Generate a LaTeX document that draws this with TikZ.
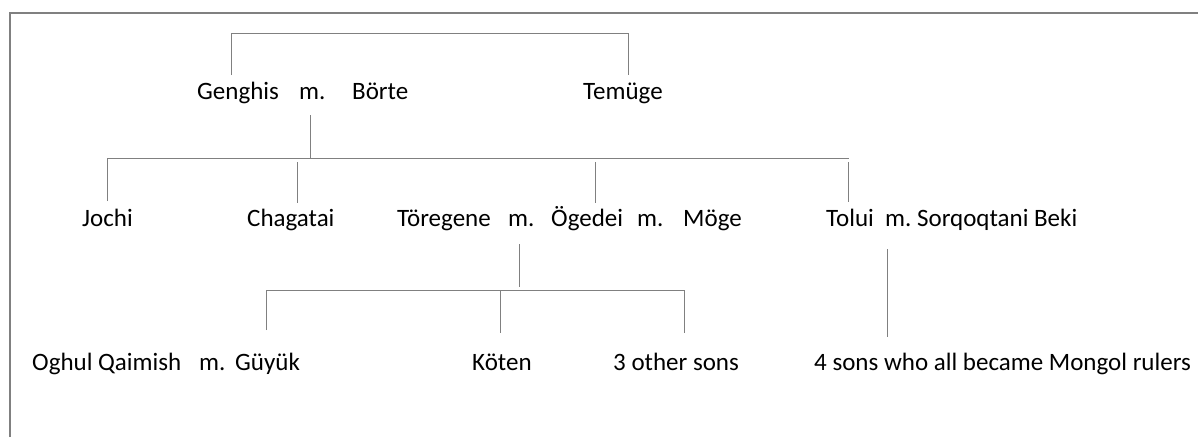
\documentclass[tikz,border=0pt]{standalone}
\usepackage{fontspec}
\setmainfont{Carlito}
\usepackage{tikz}

\begin{document}
\begin{tikzpicture}
        [x=1pt,y=-1pt]
            \tikzstyle{every node}=[inner sep=0pt, anchor=base west,
        font=\fontsize{25}{30}\selectfont]
            \tikzstyle{link}=[draw=black!50, line width=1pt]
        \useasboundingbox (0,0) rectangle (1198,437);
        \draw[black!50, line width=2pt] (10,437) -- (10,13) -- (1198,13);
        %-----generation 1
         \node (GE) at (197,99) {Genghis};
         \node (m1) at (299,99) {m.};
         \node (BO) at (352,99) {Börte};
         \node (TE) at (583,99) {Temüge};
        %-----generation 2
         \node (JO) at (82,226) {Jochi};
         \node (CH) at (247,226) {Chagatai};
         \node (TR) at (397,226) {Töregene};
         \node (m2) at (508,226) {m.};
         \node (OG) at (551,226) {Ögedei};
         \node (m3) at (637,226) {m.};
         \node (MO) at (683,226) {Möge};
         \node (TO) at (826,226) {Tolui\ \ m.\ Sorqoqtani Beki};
        %-----generation 3
         \node (OQ) at (32,370) {Oghul Qaimish};
         \node (m4) at (199,370) {m.};
         \node (GU) at (235,370) {Güyük};
         \node (KO) at (472,370) {Köten};
         \node (OS) at (613,370) {3 other sons};
         \node (FS) at (814,370) {4 sons who all became Mongol rulers};

        %-----line ends
         \coordinate (GEt) at (231,75);
         \coordinate (GEc) at (231,33);
         \coordinate (TEc) at (628,33);
         \coordinate (TEt) at (628,75);
         \coordinate (GBb) at (310,115);
         \coordinate (GBj) at (310,158);
         \coordinate (S1) at (107,158);
         \coordinate (S4) at (849,158);
         \coordinate (JOt) at (107,201);
         \coordinate (CHs) at (297,162);
         \coordinate (CHt) at (297,203);
         \coordinate (OGs) at (595,162);
         \coordinate (OGt) at (595,203);
         \coordinate (TOs) at (848,162);
         \coordinate (TOt) at (848,202);
         \coordinate (OGb) at (519,244);
         \coordinate (OGj) at (519,287);
         \coordinate (K1) at (266,290);
         \coordinate (K3) at (684,290);
         \coordinate (GUt) at (266,330);
         \coordinate (KOs) at (500,290);
         \coordinate (KOt) at (500,333);
         \coordinate (OSt) at (684,333);
         \coordinate (TOb) at (887,249);
         \coordinate (FSt) at (887,337);

         \draw[link] (GEt) -- (GEc) -- (TEc) -- (TEt);
         \draw[link] (JOt) -- (S1) -- (S4);
         \draw[link] (GUt) -- (K1) -- (K3) -- (OSt);

         \foreach \from/\to in {GBb/GBj,CHs/CHt,OGs/OGt,TOs/TOt,OGb/OGj,KOs/KOt,TOb/FSt}
         \draw[link] (\from) -- (\to);
        \end{tikzpicture}
\end{document}
